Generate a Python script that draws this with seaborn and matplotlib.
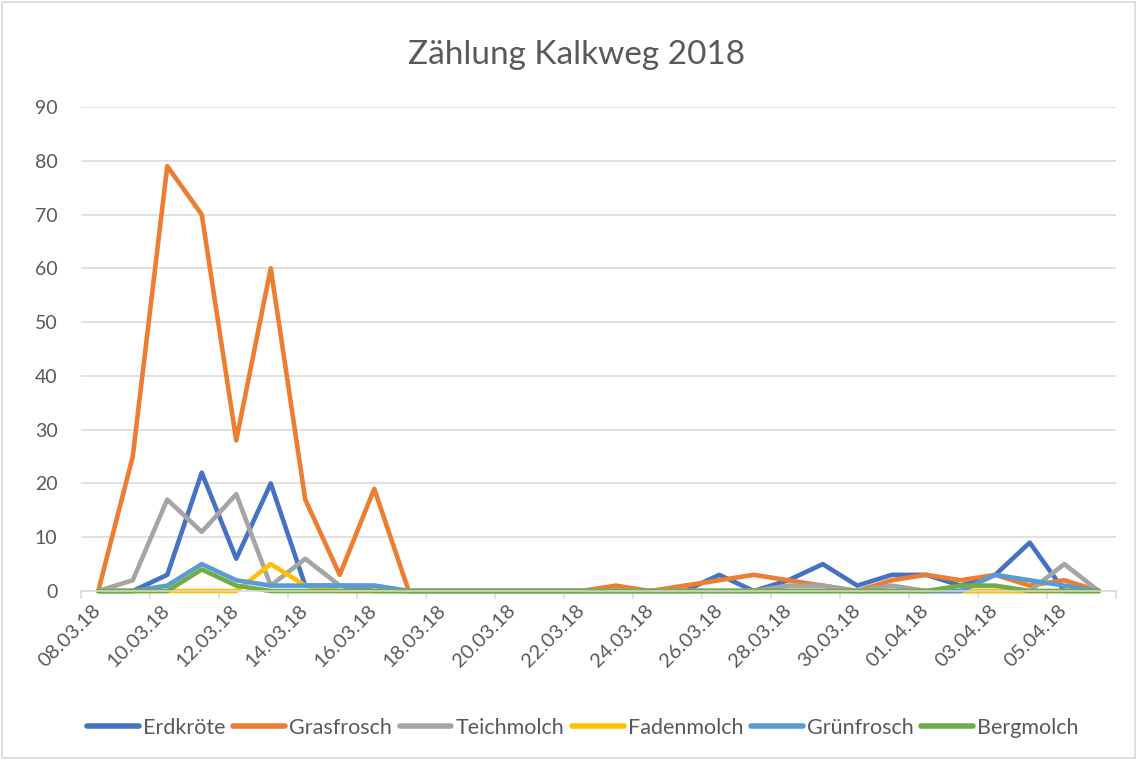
import matplotlib
matplotlib.use("Agg")
import matplotlib.pyplot as plt
from matplotlib.patches import Rectangle
from matplotlib.lines import Line2D
import numpy as np
import pandas as pd
import seaborn as sns

# ---------------- data ----------------
dates = ["08.03.18", "09.03.18", "10.03.18", "11.03.18", "12.03.18", "13.03.18",
         "14.03.18", "15.03.18", "16.03.18", "17.03.18", "18.03.18", "19.03.18",
         "20.03.18", "21.03.18", "22.03.18", "23.03.18", "24.03.18", "25.03.18",
         "26.03.18", "27.03.18", "28.03.18", "29.03.18", "30.03.18", "31.03.18",
         "01.04.18", "02.04.18", "03.04.18", "04.04.18", "05.04.18", "06.04.18"]

erdkroete  = [0, 0, 3, 22, 6, 20, 1, 1, 0, 0, 0, 0, 0, 0, 0, 0, 0, 0, 3, 0,
              2, 5, 1, 3, 3, 1, 3, 9, 0, 0]
grasfrosch = [0, 25, 79, 70, 28, 60, 17, 3, 19, 0, 0, 0, 0, 0, 0, 1, 0, 1, 2, 3,
              2, 1, 0, 2, 3, 2, 3, 1, 2, 0]
teichmolch = [0, 2, 17, 11, 18, 1, 6, 1, 1, 0, 0, 0, 0, 0, 0, 0, 0, 0, 0, 0,
              1, 1, 0, 1, 0, 0, 0, 0, 5, 0]
fadenmolch = [0, 0, 0, 0, 0, 5, 1, 0, 0, 0, 0, 0, 0, 0, 0, 0, 0, 0, 0, 0,
              0, 0, 0, 0, 0, 0, 0, 0, 0, 0]
gruenfrosch = [0, 0, 1, 5, 2, 1, 1, 1, 1, 0, 0, 0, 0, 0, 0, 0, 0, 0, 0, 0,
               0, 0, 0, 0, 0, 0, 3, 2, 1, 0]
bergmolch  = [0, 0, 0, 4, 1, 0, 0, 0, 0, 0, 0, 0, 0, 0, 0, 0, 0, 0, 0, 0,
              0, 0, 0, 0, 0, 1, 1, 0, 0, 0]

series_names = ["Erdkröte", "Grasfrosch", "Teichmolch", "Fadenmolch", "Grünfrosch", "Bergmolch"]
series_values = [erdkroete, grasfrosch, teichmolch, fadenmolch, gruenfrosch, bergmolch]
colors = ["#4472C4", "#ED7D31", "#A5A5A5", "#FFC000", "#5B9BD5", "#70AD47"]

title = "Zählung Kalkweg 2018"

# ---------------- frame ----------------
rows = []
for name, vals in zip(series_names, series_values):
    for i, v in enumerate(vals):
        rows.append({"idx": i, "Datum": dates[i], "Art": name, "Anzahl": v})
df = pd.DataFrame(rows)

sns.set_theme(style="white")
plt.rcParams["font.family"] = ["Lato", "DejaVu Sans"]
text_color = "#595959"
grid_color = "#D9D9D9"

fig = plt.figure(figsize=(11.37, 7.6), dpi=100)
ax = fig.add_axes([81 / 1137, 1 - 591 / 760, (1116 - 81) / 1137, (591 - 107) / 760])

sns.lineplot(data=df, x="idx", y="Anzahl", hue="Art", hue_order=series_names,
             palette=dict(zip(series_names, colors)), linewidth=3.3, sort=False,
             legend=False, ax=ax)
for ln in ax.lines:
    ln.set_clip_on(False)
    ln.set_solid_joinstyle("round")
    ln.set_solid_capstyle("round")

n = len(dates)
ax.set_xlim(-0.5, n - 0.5)
ax.set_ylim(0, 90)
ax.set_yticks(np.arange(0, 91, 10))
ax.set_xticks(np.arange(0, n, 2))
ax.set_xticklabels(dates[::2], rotation=45, ha="right", va="center",
                   rotation_mode="anchor")
ax.set_xticks(np.arange(-0.5, n, 2), minor=True)
ax.tick_params(axis="x", which="major", length=0, pad=12, labelsize=14.5, labelcolor=text_color)
ax.tick_params(axis="x", which="minor", length=6, width=1.1, color=grid_color, bottom=True)
ax.tick_params(axis="y", length=0, pad=17, labelsize=14, labelcolor=text_color)
ax.set_xlabel("")
ax.set_ylabel("")

ax.yaxis.grid(True, color=grid_color, linewidth=1.1)
ax.xaxis.grid(False)
ax.set_axisbelow(True)
for s in ["left", "right", "top"]:
    ax.spines[s].set_visible(False)
ax.spines["bottom"].set_color(grid_color)
ax.spines["bottom"].set_linewidth(1.1)

fig.text(577 / 1137, 1 - 55 / 760, title, ha="center", va="center",
         fontsize=24, color=text_color)

handles = [Line2D([0], [0], color=c, lw=4, solid_capstyle="round") for c in colors]
fig.legend(handles, series_names, loc="center", ncol=6,
           bbox_to_anchor=(583 / 1137, 1 - 728 / 760), bbox_transform=fig.transFigure,
           frameon=False, fontsize=15.5, labelcolor=text_color, handlelength=2.4,
           handletextpad=0.2, columnspacing=0.35)

fig.patches.append(Rectangle((2 / 1137, 2 / 760), 1 - 4 / 1137, 1 - 4 / 760,
                             transform=fig.transFigure, fill=False,
                             edgecolor=grid_color, linewidth=1.2))

fig.savefig("out.png", dpi=100, facecolor="white")
